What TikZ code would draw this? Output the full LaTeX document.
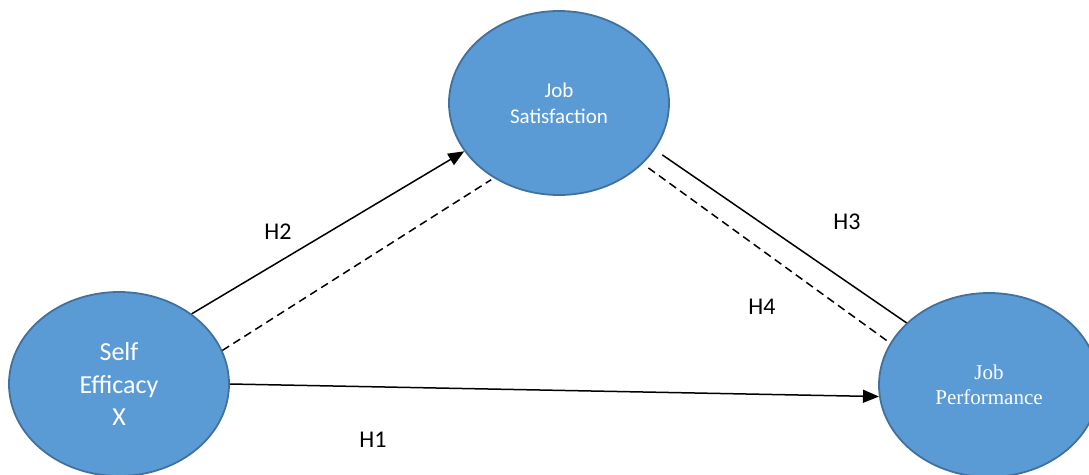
\documentclass[tikz,border=0pt]{standalone}
\usepackage{fontspec}
\setmainfont{Carlito}
\newfontfamily\serifface{Liberation Serif}
\usetikzlibrary{arrows.meta,shapes.geometric}
\definecolor{nodeblue}{HTML}{5B9BD5}
\definecolor{nodeedge}{HTML}{41719C}

\begin{document}
\begin{tikzpicture}[x=1pt, y=-1pt,
    construct/.style ={ellipse, draw=nodeedge, line width=1.8pt, fill=nodeblue,
      text=white, minimum width=220pt, minimum height=184pt, inner sep=0pt, align=center},
    link/.style ={line width=1.5pt},
    mediator/.style ={line width=1.5pt, dash pattern=on 8pt off 5pt},
    hyp/.style ={font=\fontsize{24}{29}\selectfont},
    tip/.style ={-{Triangle[length=16pt,width=13pt]}}]
   \useasboundingbox (0,0) rectangle (1089,474);

   \node[construct, font=\fontsize{26}{32.5}\selectfont] (SE) at (119,384) {Self\\Efficacy\\X};
   \node[construct, font=\fontsize{21}{26}\selectfont] (JS) at (559,103) {Job\\Satisfaction};
   \node[construct, font=\serifface\fontsize{21}{25}\selectfont] (JP) at (989,385) {Job\\Performance};

   \node[hyp] (H1) at (373,440) {H1};
   \node[hyp] (H2) at (278,232) {H2};
   \node[hyp] (H3) at (847,222) {H3};
   \node[hyp] (H4) at (762,307) {H4};

   \draw[link, tip] (SE.44) to (JS.207);
   \draw[mediator, shorten >=3pt] (SE.18) to (JS.229);
   \draw[link, shorten <=9pt] (JS.-26) to (JP.143);
   \draw[mediator, shorten <=7pt] (JS.-36) to (JP.157);
   \draw[link, tip] (SE.east) to (JP.186);
 \end{tikzpicture}
\end{document}
